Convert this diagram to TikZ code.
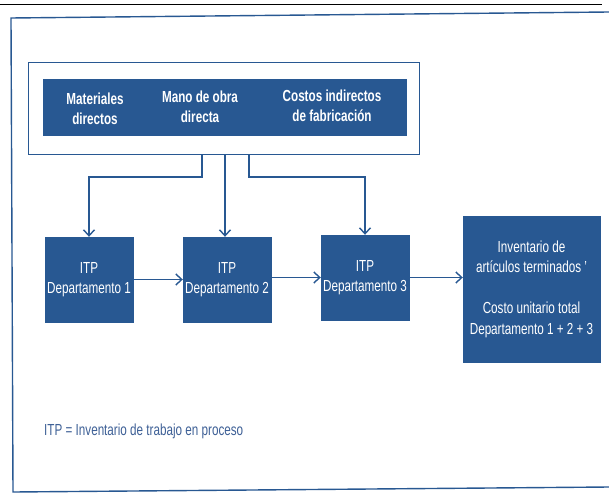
\documentclass[tikz,border=0pt]{standalone}
\usepackage{fontspec}
\setmainfont{Liberation Sans}[FakeStretch=0.73]
\usetikzlibrary{positioning}
\usetikzlibrary{arrows.meta}
\definecolor{itpblue}{RGB}{40,88,146}
\definecolor{legblue}{RGB}{62,96,150}
\tikzset{
    itpnode/.style = {rectangle, draw=itpblue, fill=itpblue, align=center, text=white, minimum width=88pt, minimum height=85pt, inner sep=0pt},
    finalnode/.style = {rectangle, draw=itpblue, fill=itpblue, align=center, text=white, minimum width=137pt, minimum height=146pt, inner sep=0pt},
    costnode/.style = {align=center, text=white, font=\bfseries, inner sep=0pt},
    edgeb/.style = {-{Straight Barb[length=6pt,width=11pt]}, line width=1.4pt, itpblue},
    framel/.style = {line width=1.4pt, itpblue},
    every picture/.style={font issue=\fontsize{16}{20.5}},
    font issue/.style={execute at begin picture={#1\selectfont}}
}

\begin{document}
\begin{tikzpicture}[x=1pt,y=-1pt]
\useasboundingbox (0,0) rectangle (609,497);
\draw[black, line width=0.8pt] (0,4.5) -- (602,4.5);
\draw[framel] (609,12) -- (11,18) -- (13,492) -- (609,487);
% costos de produccion
\node[draw=itpblue, line width=1pt, minimum width=391pt, minimum height=91pt] at (223.5,108.5) (marco) {};
\node[fill=itpblue, minimum width=364pt, minimum height=57pt] at (225,107.5) (barra) {};
\node[costnode] at (95,109) (mat) {Materiales\\directos};
\node[costnode] at (200,107) (mod) {Mano de obra\\directa};
\node[costnode] at (332,106) (cif) {Costos indirectos\\de fabricación};
% departamentos
\node[itpnode] at (89,279.5) (d1) {ITP\\Departamento 1};
\node[itpnode] at (227,279.5) (d2) {ITP\\Departamento 2};
\node[itpnode] at (365,277.5) (d3) {ITP\\Departamento 3};
\node[finalnode] at (531.5,289) (fin) {Inventario de\\artículos terminados '\\[20.5pt]Costo unitario total\\Departamento 1 + 2 + 3};
\coordinate (s1) at (202,154);
\coordinate (s2) at (225,154);
\coordinate (s3) at (249,154);
\draw[edgeb] (s1) -- ++(0,23) -| (d1.north);
\draw[edgeb] (s2) -- (s2 |- d2.north);
\draw[edgeb] (s3) -- ++(0,23) -| (d3.north);
\draw[edgeb] (d1) -- (d2);
\draw[edgeb] (d2.east |- d3) -- (d3.west);
\draw[edgeb] (d3.east) -- (d3.east -| fin.west);
\node[text=legblue, anchor=west, inner sep=0pt] at (44,431) (leyenda) {ITP = Inventario de trabajo en proceso};
\end{tikzpicture}
\end{document}
